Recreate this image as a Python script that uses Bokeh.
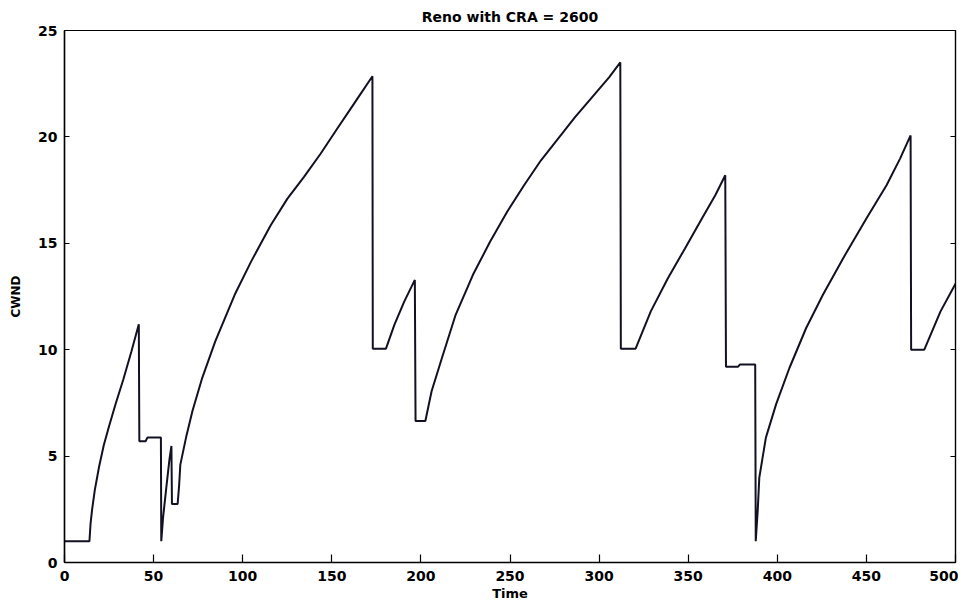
from bokeh.plotting import figure
from bokeh.models import Range1d, FixedTicker, LinearAxis, CustomJSTickFormatter
from bokeh.embed import file_html
from bokeh.resources import INLINE

# Data (time, congestion window)
time = [0, 14, 14.6, 15.5, 17.0, 19.4, 22.0, 25.0, 28.5, 33.0, 37.5, 41.7, 42.0, 45.5, 46.5, 54.1,
        54.3, 55.3, 57.1, 58.9, 60.0, 60.3, 63.5, 64.3, 65.0, 68.2, 71.8, 77.3, 84.6, 95.5,
        104.7, 115.8, 125.1, 134.4, 143.7, 153.0, 162.4, 172.8, 173.0, 180.4, 185.1, 190.7,
        196.6, 197.0, 202.5, 206.0, 211.8, 219.5, 229.2, 238.8, 248.4, 257.9, 267.4, 276.9,
        286.5, 296.0, 305.6, 311.9, 312.2, 320.5, 329.0, 338.6, 348.2, 357.7, 365.2, 370.8,
        371.2, 378.0, 379.0, 387.6, 387.9, 389.0, 389.9, 393.6, 399.3, 406.8, 416.2, 425.6,
        436.9, 450.0, 461.3, 468.9, 474.8, 475.1, 482.5, 491.6, 500]
cwnd = [1, 1, 1.8, 2.5, 3.4, 4.5, 5.5, 6.4, 7.4, 8.6, 9.9, 11.2, 5.7, 5.7, 5.87, 5.87,
        1.0, 2.1, 3.5, 4.85, 5.48, 2.75, 2.75, 3.6, 4.6, 5.87, 7.12, 8.68, 10.39, 12.58,
        14.14, 15.86, 17.1, 18.12, 19.21, 20.38, 21.55, 22.85, 10.05, 10.05, 11.17, 12.27,
        13.28, 6.65, 6.65, 8.05, 9.61, 11.64, 13.52, 15.07, 16.48, 17.73, 18.9, 19.91,
        20.93, 21.86, 22.8, 23.5, 10.05, 10.05, 11.8, 13.36, 14.76, 16.17, 17.26, 18.2,
        9.2, 9.2, 9.3, 9.3, 1.0, 2.43, 3.99, 5.87, 7.43, 9.14, 11.02, 12.58,
        14.29, 16.17, 17.73, 18.98, 20.07, 10.0, 10.0, 11.8, 13.1]

x_ticks = [0, 50, 100, 150, 200, 250, 300, 350, 400, 450, 500]
y_ticks = [0, 5, 10, 15, 20, 25]

FONT = "DejaVu Sans"

p = figure(width=958, height=605, output_backend="svg", toolbar_location=None,
           x_range=Range1d(0, 500), y_range=Range1d(0, 25),
           title="Reno with CRA = 2600",
           min_border_left=64, min_border_right=3, min_border_top=28, min_border_bottom=43)

p.line(time, cwnd, line_color="#111122", line_width=2)

p.title.align = "center"
p.title.text_font = FONT
p.title.text_font_size = "14px"
p.title.text_font_style = "bold"
p.title.text_color = "black"
p.title.standoff = 12

p.grid.visible = False
p.outline_line_color = "black"
p.outline_line_width = 1.2
p.background_fill_color = "white"
p.border_fill_color = "white"

for ax in (p.xaxis[0], p.yaxis[0]):
    ax.major_tick_out = 0
    ax.minor_tick_line_color = None
    ax.axis_line_color = "black"
    ax.axis_line_width = 1.5
    ax.major_tick_line_color = "black"
    ax.major_tick_line_width = 1.2
    ax.major_label_text_font = FONT
    ax.major_label_text_font_size = "14px"
    ax.major_label_text_font_style = "bold"
    ax.axis_label_text_font = FONT
    ax.axis_label_text_font_style = "bold"
    ax.axis_label_text_color = "black"
    ax.major_label_text_color = "black"

p.xaxis[0].ticker = FixedTicker(ticks=x_ticks)
p.xaxis[0].major_tick_in = 8
p.xaxis[0].major_label_standoff = 8
p.xaxis[0].axis_label = "Time"
p.xaxis[0].axis_label_text_font_size = "13px"
p.xaxis[0].axis_label_standoff = 2

p.yaxis[0].ticker = FixedTicker(ticks=y_ticks)
p.yaxis[0].major_tick_in = 5
p.yaxis[0].major_label_standoff = 7
p.yaxis[0].axis_label = "CWND"
p.yaxis[0].axis_label_text_font_size = "12px"
p.yaxis[0].axis_label_standoff = 12

right = LinearAxis(ticker=FixedTicker(ticks=y_ticks), major_tick_in=5, major_tick_out=0,
                   minor_tick_line_color=None,
                   formatter=CustomJSTickFormatter(code="return '';"),
                   axis_line_color="black", axis_line_width=1.2, major_label_standoff=0)
p.add_layout(right, "right")

open("out.html", "w").write(file_html(p, INLINE))
